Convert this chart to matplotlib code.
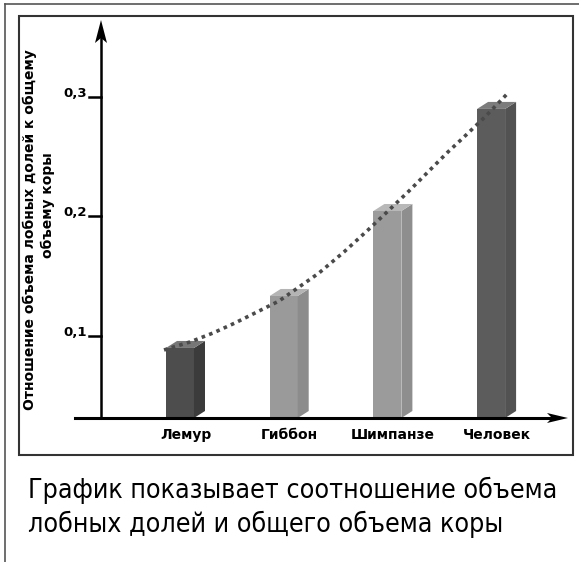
import matplotlib
matplotlib.use('Agg')
import matplotlib.pyplot as plt
from matplotlib import font_manager as fm
from matplotlib.patches import Polygon, Rectangle
from matplotlib.lines import Line2D

# данные
categories = ['Лемур', 'Гиббон', 'Шимпанзе', 'Человек']
ratio = [0.090, 0.1335, 0.2046, 0.290]
front_colors = ['#4d4d4d', '#9a9a9a', '#9b9b9b', '#5c5c5c']
side_colors = ['#3b3b3b', '#8c8c8c', '#8e8e8e', '#525252']
top_colors = ['#777777', '#b4b4b4', '#b8b8b8', '#7c7c7c']

# пунктирная линия тренда
trend_x = [-0.154, 0.096, 0.318, 0.530, 0.743, 0.955, 1.148, 1.340, 1.581,
           1.813, 1.986, 2.208, 2.584, 2.719, 2.941, 3.163]
trend_y = [0.0883, 0.0950, 0.1025, 0.1109, 0.1201, 0.1293, 0.1410, 0.1527,
           0.1703, 0.1887, 0.2029, 0.2213, 0.2540, 0.2649, 0.2833, 0.3033]

ticks = [0.1, 0.2, 0.3]
tick_labels = ['0,1', '0,2', '0,3']

ylabel1 = 'Отношение объема лобных долей к общему'
ylabel2 = 'объему коры'
caption1 = 'График показывает соотношение объема'
caption2 = 'лобных долей и общего объема коры'

# узкий шрифт для подписи, если найдётся
cap_props = None
for fam, st in [('DejaVu Sans Condensed', 'normal'), ('DejaVu Sans', 'condensed')]:
    try:
        fp = fm.FontProperties(family=fam, stretch=st)
        path = fm.findfont(fp, fallback_to_default=False)
        if 'Condensed' in path:
            cap_props = dict(family=fam, fontstretch=st, fontsize=19.2)
            break
    except Exception:
        pass
if cap_props is None:
    cap_props = dict(family='Roboto', fontsize=18.5)

W, H = 579, 562
fig = plt.figure(figsize=(W / 100, H / 100), dpi=100)
ax = fig.add_axes([75 / W, (H - 418) / H, 493 / W, 398 / H])
X0, X1 = -1.0125, 3.7416
YLO, YHI = 0.0314, 0.3644
ax.set_xlim(X0, X1)
ax.set_ylim(YLO, YHI)
ax.axis('off')

# размер одного пикселя в единицах данных
ux = (X1 - X0) / 493
uy = (YHI - YLO) / 398

bw = 28 * ux
dx = 11 * ux
dy = 7 * uy

# псевдо-3D столбики
for i, v in enumerate(ratio):
    ax.bar(i, v - YLO, bottom=YLO, width=bw, color=front_colors[i],
           linewidth=0, zorder=2)
    r = i + bw / 2
    l = i - bw / 2
    ax.add_patch(Polygon([(r, YLO), (r + dx, YLO + dy), (r + dx, v + dy), (r, v)],
                         closed=True, fc=side_colors[i], ec='none', zorder=2))
    ax.add_patch(Polygon([(l, v), (l + dx, v + dy), (r + dx, v + dy), (r, v)],
                         closed=True, fc=top_colors[i], ec='none', zorder=2))

ax.plot(trend_x, trend_y, color='#4a4a4a', lw=2.6, linestyle=(0, (1, 1.2)),
        dash_capstyle='butt', zorder=4)

# ось Y со стрелкой
yx = X0 + 26 * ux
ax.plot([yx, yx], [YLO, YHI - 18 * uy], color='black', lw=1.8, clip_on=False, zorder=3)
ax.add_patch(Polygon([(yx, YHI), (yx - 6 * ux, YHI - 23 * uy), (yx, YHI - 18 * uy),
                      (yx + 6 * ux, YHI - 23 * uy)], closed=True, fc='black',
                     ec='none', clip_on=False, zorder=3))

# ось X со стрелкой
ax.plot([X0, X1 - 16 * ux], [YLO, YLO], color='black', lw=2.2, clip_on=False, zorder=3)
ax.add_patch(Polygon([(X1, YLO), (X1 - 21 * ux, YLO + 5 * uy), (X1 - 16 * ux, YLO),
                      (X1 - 21 * ux, YLO - 5 * uy)], closed=True, fc='black',
                     ec='none', clip_on=False, zorder=3))

for t, lab in zip(ticks, tick_labels):
    ax.plot([yx - 12 * ux, yx], [t, t], color='black', lw=1.8, zorder=3)
    ax.text(yx - 14 * ux, t, lab, ha='right', va='baseline',
            fontsize=9.5, fontweight='bold')

for i, cat in enumerate(categories):
    ax.text(i + dx / 2, YLO - 17 * uy, cat, ha='center', va='center',
            fontsize=10, fontweight='bold')

fig.text(30 / W, 1 - 230 / H, ylabel1, rotation=90, ha='center', va='center',
         fontsize=10, fontweight='bold')
fig.text(48 / W, 1 - 205 / H, ylabel2, rotation=90, ha='center', va='center',
         fontsize=10, fontweight='bold')

fig.text(28 / W, 1 - 498 / H, caption1, va='baseline', **cap_props)
fig.text(28 / W, 1 - 532 / H, caption2, va='baseline', **cap_props)

# рамки
fig.add_artist(Rectangle((19 / W, 1 - 455 / H), (573 - 19) / W, (455 - 16) / H,
                         transform=fig.transFigure, fill=False, lw=1.5, ec='#333333'))
fig.add_artist(Line2D([5 / W, 5 / W], [1 - 4 / H, 0], transform=fig.transFigure,
                      color='#555555', lw=1.2))
fig.add_artist(Line2D([5 / W, 1], [1 - 4 / H, 1 - 4 / H], transform=fig.transFigure,
                      color='#555555', lw=1.2))

fig.savefig('out.png', dpi=100)
